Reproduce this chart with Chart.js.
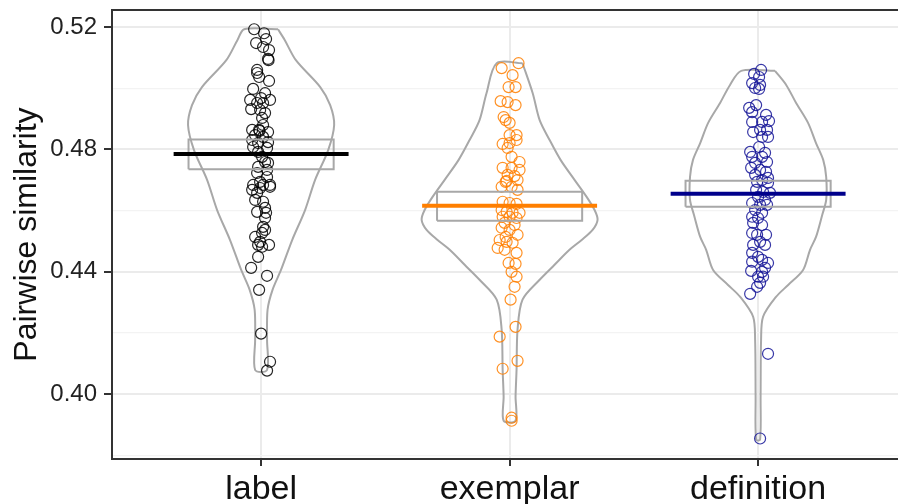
<!DOCTYPE html>
<html>
<head>
<meta charset="utf-8">
<script src="https://cdn.jsdelivr.net/npm/chart.js@4.4.1/dist/chart.umd.min.js"></script>
<style>
  html, body { margin: 0; padding: 0; background: #fff; overflow: hidden; }
  canvas { display: block; }
</style>
</head>
<body>
<canvas id="chart" width="898" height="504"></canvas>
<script>
// Categories and axis ticks
const categories = ['label', 'exemplar', 'definition'];
const yTickLabels = [0.40, 0.44, 0.48, 0.52];
const yMinorTicks = [0.38, 0.42, 0.46, 0.50];

// Means and interval boxes
const meanValues = [0.4785, 0.4616, 0.4655];
const boxLower = [0.4735, 0.4567, 0.4613];
const boxUpper = [0.4833, 0.4662, 0.4698];

// Raw points (value) and their horizontal jitter (category units)
const labelValues = [0.5193, 0.5180, 0.5161, 0.5148, 0.5135, 0.5125, 0.5096, 0.5092, 0.5060, 0.5050,
  0.5037, 0.5024, 0.4998, 0.4984, 0.4968, 0.4962, 0.4962, 0.4952, 0.4952, 0.4932,
  0.4929, 0.4919, 0.4903, 0.4880, 0.4864, 0.4864, 0.4861, 0.4857, 0.4847, 0.4841,
  0.4831, 0.4824, 0.4821, 0.4808, 0.4805, 0.4792, 0.4776, 0.4759, 0.4756, 0.4743,
  0.4733, 0.4723, 0.4710, 0.4694, 0.4684, 0.4684, 0.4684, 0.4668, 0.4674, 0.4678,
  0.4658, 0.4635, 0.4629, 0.4609, 0.4596, 0.4593, 0.4576, 0.4547, 0.4537, 0.4527,
  0.4514, 0.4498, 0.4488, 0.4482, 0.4488, 0.4449, 0.4413, 0.4387, 0.4341, 0.4198,
  0.4106, 0.4077];
const labelJitter = [-0.028, 0.012, 0.020, -0.020, 0.008, 0.032, 0.028, 0.030, -0.016, -0.016,
  -0.008, 0.032, -0.032, 0.016, 0.000, -0.044, 0.036, -0.016, 0.008, -0.040,
  -0.004, 0.016, 0.004, 0.008, -0.036, -0.008, -0.006, 0.028, -0.024, 0.008,
  -0.036, 0.028, -0.012, -0.032, 0.024, -0.012, 0.004, 0.016, 0.028, -0.012,
  0.024, -0.016, 0.024, -0.004, -0.032, 0.008, 0.036, -0.036, -0.004, 0.036,
  -0.016, -0.024, 0.008, 0.016, -0.016, 0.020, 0.016, 0.008, 0.016, 0.004,
  -0.024, -0.004, -0.012, 0.004, 0.032, -0.012, -0.040, 0.024, -0.008, 0.000,
  0.036, 0.024];

const exemplarValues = [0.5082, 0.5066, 0.5043, 0.5004, 0.5004, 0.4958, 0.4955, 0.4945, 0.4906, 0.4896,
  0.4887, 0.4847, 0.4847, 0.4818, 0.4821, 0.4831, 0.4805, 0.4776, 0.4759, 0.4740,
  0.4740, 0.4733, 0.4717, 0.4713, 0.4697, 0.4694, 0.4700, 0.4678, 0.4678, 0.4668,
  0.4629, 0.4625, 0.4622, 0.4602, 0.4596, 0.4593, 0.4593, 0.4580, 0.4580, 0.4576,
  0.4560, 0.4553, 0.4544, 0.4537, 0.4521, 0.4514, 0.4504, 0.4498, 0.4495, 0.4478,
  0.4472, 0.4462, 0.4429, 0.4426, 0.4400, 0.4384, 0.4351, 0.4309, 0.4220, 0.4188,
  0.4109, 0.4083, 0.3923, 0.3913];
const exemplarJitter = [0.036, -0.032, 0.012, -0.004, 0.024, -0.036, -0.008, 0.024, -0.024, -0.016,
  0.000, 0.000, 0.028, -0.028, 0.000, 0.028, -0.008, 0.008, 0.040, -0.028,
  0.008, 0.040, -0.008, 0.020, -0.012, -0.016, 0.032, -0.032, 0.008, 0.032,
  -0.028, 0.000, 0.028, -0.032, -0.012, 0.012, 0.040, -0.028, 0.000, 0.028,
  -0.020, 0.020, -0.032, 0.000, 0.032, -0.016, -0.040, -0.012, 0.012, -0.048,
  -0.020, 0.028, -0.004, 0.024, 0.008, 0.028, 0.020, 0.004, 0.024, -0.040,
  0.032, -0.028, 0.008, 0.008];

const definitionValues = [0.5060, 0.5047, 0.5037, 0.5017, 0.5011, 0.5001, 0.4998, 0.4945, 0.4936, 0.4922,
  0.4913, 0.4893, 0.4890, 0.4890, 0.4857, 0.4864, 0.4864, 0.4841, 0.4841, 0.4808,
  0.4792, 0.4789, 0.4776, 0.4776, 0.4759, 0.4756, 0.4740, 0.4733, 0.4727, 0.4717,
  0.4707, 0.4700, 0.4694, 0.4691, 0.4668, 0.4661, 0.4658, 0.4645, 0.4635, 0.4625,
  0.4619, 0.4619, 0.4602, 0.4593, 0.4580, 0.4576, 0.4560, 0.4553, 0.4527, 0.4521,
  0.4521, 0.4488, 0.4498, 0.4488, 0.4462, 0.4449, 0.4433, 0.4439, 0.4429, 0.4413,
  0.4403, 0.4400, 0.4384, 0.4384, 0.4364, 0.4351, 0.4328, 0.4132, 0.3855];
const definitionJitter = [0.012, -0.016, 0.004, -0.024, 0.008, -0.012, 0.004, -0.008, -0.036, -0.024,
  0.032, 0.044, 0.016, -0.024, -0.020, 0.008, 0.036, 0.040, 0.016, 0.004,
  -0.032, 0.028, -0.024, 0.016, 0.036, -0.012, -0.028, 0.008, 0.032, -0.012,
  0.040, 0.016, -0.004, 0.040, -0.008, 0.020, 0.048, 0.000, 0.028, -0.024,
  0.008, 0.036, -0.012, 0.016, -0.024, 0.000, -0.020, 0.016, -0.024, -0.004,
  0.032, -0.020, 0.008, 0.028, -0.024, 0.000, -0.024, 0.016, 0.040, 0.028,
  -0.028, 0.016, 0.000, 0.020, 0.008, -0.004, -0.032, 0.040, 0.008];

// Violin outlines: value levels and half-widths (category units)
const labelViolinY = [0.5193, 0.5158, 0.5092, 0.5004, 0.4945, 0.4880, 0.4798, 0.4700, 0.4602, 0.4504, 0.4406, 0.4341, 0.4276, 0.4178, 0.4079];
const labelViolinW = [0.068, 0.095, 0.140, 0.238, 0.278, 0.294, 0.270, 0.217, 0.177, 0.125, 0.080, 0.046, 0.026, 0.024, 0.024];
const exemplarViolinY = [0.5082, 0.4984, 0.4896, 0.4831, 0.4766, 0.4700, 0.4645, 0.4602, 0.4570, 0.4537, 0.4504, 0.4472, 0.4423, 0.4374, 0.4309, 0.4211, 0.4080, 0.3992, 0.3913];
const exemplarViolinW = [0.052, 0.093, 0.121, 0.161, 0.205, 0.262, 0.310, 0.342, 0.354, 0.334, 0.290, 0.241, 0.181, 0.121, 0.052, 0.032, 0.028, 0.024, 0.024];
const definitionViolinY = [0.5057, 0.5011, 0.4952, 0.4887, 0.4821, 0.4766, 0.4710, 0.4635, 0.4586, 0.4514, 0.4472, 0.4406, 0.4357, 0.4318, 0.4253, 0.4178, 0.3992, 0.3851];
const definitionViolinW = [0.068, 0.113, 0.153, 0.201, 0.233, 0.262, 0.274, 0.274, 0.258, 0.233, 0.209, 0.181, 0.121, 0.072, 0.020, 0.012, 0.010, 0.008];

const pointColors = ['rgba(0,0,0,0.85)', 'rgba(255,127,0,0.85)', 'rgba(20,20,150,0.85)'];
const meanColors = ['#000000', '#ff7f00', '#00008b'];

const meanHalf = 0.352;
const boxHalf = 0.292;

function violinPath(c, ys, ws) {
  const right = ys.map((y, i) => ({ x: c + ws[i], y: y }));
  const left = ys.map((y, i) => ({ x: c - ws[i], y: y })).reverse();
  return right.concat(left, [right[0]]);
}

function pointsOf(c, vals, jit) {
  return vals.map((v, i) => ({ x: c + jit[i], y: v }));
}

const violins = [
  violinPath(0, labelViolinY, labelViolinW),
  violinPath(1, exemplarViolinY, exemplarViolinW),
  violinPath(2, definitionViolinY, definitionViolinW)
];
const points = [
  pointsOf(0, labelValues, labelJitter),
  pointsOf(1, exemplarValues, exemplarJitter),
  pointsOf(2, definitionValues, definitionJitter)
];

const datasets = [];
categories.forEach((cat, i) => {
  datasets.push({
    data: violins[i], showLine: true, borderColor: '#a8a8a8', borderWidth: 2,
    pointRadius: 0, tension: 0.3, fill: false, order: 4
  });
  datasets.push({
    data: points[i], showLine: false, pointRadius: 5.5, pointBorderWidth: 1.2,
    pointBorderColor: pointColors[i], pointBackgroundColor: 'rgba(0,0,0,0)', order: 3
  });
  datasets.push({
    data: [
      { x: i - boxHalf, y: boxLower[i] }, { x: i + boxHalf, y: boxLower[i] },
      { x: i + boxHalf, y: boxUpper[i] }, { x: i - boxHalf, y: boxUpper[i] },
      { x: i - boxHalf, y: boxLower[i] }
    ],
    showLine: true, borderColor: '#a8a8a8', borderWidth: 2, pointRadius: 0, tension: 0, order: 2
  });
  datasets.push({
    data: [{ x: i - meanHalf, y: meanValues[i] }, { x: i + meanHalf, y: meanValues[i] }],
    showLine: true, borderColor: meanColors[i], borderWidth: 4, pointRadius: 0, order: 1
  });
});

// top panel border (ggplot theme_bw)
const topBorder = {
  id: 'topBorder',
  afterDraw(chart) {
    const { ctx, chartArea } = chart;
    ctx.save();
    ctx.strokeStyle = '#333333';
    ctx.lineWidth = 2;
    ctx.beginPath();
    ctx.moveTo(chartArea.left, chartArea.top);
    ctx.lineTo(chartArea.right, chartArea.top);
    ctx.stroke();
    ctx.restore();
  }
};

const isMajor = v => yTickLabels.some(t => Math.abs(t - v) < 1e-6);

new Chart(document.getElementById('chart'), {
  type: 'scatter',
  data: { datasets: datasets },
  plugins: [topBorder],
  options: {
    responsive: false,
    animation: false,
    devicePixelRatio: 1,
    layout: { autoPadding: false, padding: { top: 10, right: 0, left: 0, bottom: 0 } },
    plugins: { legend: { display: false }, tooltip: { enabled: false } },
    scales: {
      x: {
        type: 'linear',
        min: -0.6,
        max: -0.6 + 786 / 248.5,
        afterBuildTicks: s => { s.ticks = categories.map((c, i) => ({ value: i })); },
        afterFit: s => { s.height = 45; s.paddingLeft = 0; s.paddingRight = 0; },
        border: { color: '#333333', width: 2 },
        grid: { color: '#ebebeb', lineWidth: 2, tickColor: '#333333', tickLength: 7, tickWidth: 2 },
        ticks: {
          callback: v => categories[Math.round(v)],
          color: '#111111', padding: 3, maxRotation: 0,
          font: { family: 'Liberation Sans, Arial, sans-serif', size: 34 }
        }
      },
      y: {
        type: 'linear',
        min: 0.3788,
        max: 0.5256,
        afterBuildTicks: s => {
          s.ticks = yMinorTicks.concat(yTickLabels).sort((a, b) => a - b).map(v => ({ value: v }));
        },
        afterFit: s => { s.width = 112; s.paddingTop = 0; s.paddingBottom = 0; },
        border: { color: '#333333', width: 2 },
        grid: {
          color: c => isMajor(c.tick.value) ? '#ebebeb' : '#f3f3f3',
          lineWidth: c => isMajor(c.tick.value) ? 2 : 1.2,
          tickColor: c => isMajor(c.tick.value) ? '#333333' : 'rgba(0,0,0,0)',
          tickLength: 8, tickWidth: 2
        },
        ticks: {
          callback: v => isMajor(v) ? v.toFixed(2) : '',
          color: '#222222', padding: 7,
          font: { family: 'Liberation Sans, Arial, sans-serif', size: 24 }
        },
        title: {
          display: true, text: 'Pairwise similarity', color: '#111111',
          padding: { top: 8, bottom: 0 },
          font: { family: 'Liberation Sans, Arial, sans-serif', size: 32 }
        }
      }
    }
  }
});
</script>
</body>
</html>
